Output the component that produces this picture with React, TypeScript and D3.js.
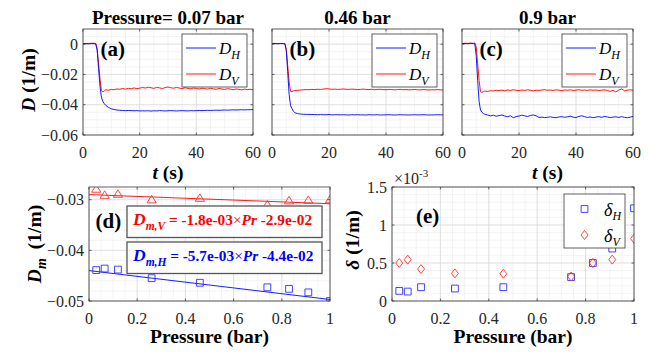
import React from "react";
import * as d3 from "d3";

// ---------- data ----------
// time axis (s)
const TIME = [0, 1, 2, 3, 4, 4.5, 5, 5.5, 6, 6.5, 7, 7.5, 8,
  9, 10, 11, 12, 13, 14, 15, 16, 17, 18, 19, 20, 21, 22, 23, 24, 25, 26, 27, 28, 29, 30,
  31, 32, 33, 34, 35, 36, 37, 38, 39, 40, 41, 42, 43, 44, 45, 46, 47, 48, 49, 50,
  51, 52, 53, 54, 55, 56, 57, 58, 59, 60];

// D series, in units of 1e-3 1/m
const A_DV = [0.3, 0.5, 0.4, 0.6, 0.5, 0.4, -3, -13, -23, -30.5, -31.6, -30.8, -30.2,
  -30.4, -29.9, -30.1, -29.6, -29.8, -29.3, -29.7, -29.2, -29.5, -28.9,
  -29.4, -29.1, -28.6, -29.0, -28.4, -28.8, -29.2, -28.5, -28.9, -29.3,
  -28.7, -28.3, -28.8, -29.1, -28.6, -29.0, -29.4, -28.8, -29.2, -29.5,
  -29.0, -29.3, -29.6, -29.1, -29.4, -29.7, -29.2, -29.5, -29.8, -29.3,
  -29.6, -29.9, -29.4, -29.7, -30.1, -29.6, -29.9, -30.2, -29.7, -30.0,
  -29.8, -30.1];
const A_DH = [0.2, 0.3, 0.2, 0.4, 0.3, 0.2, -4, -16, -28, -35, -37.8, -39.3, -40.4,
  -41.8, -42.7, -43.2, -43.5, -43.7, -43.8, -43.9, -43.8, -43.9, -44.0,
  -43.9, -44.1, -44.0, -44.1, -44.0, -44.2, -44.0, -44.1, -43.9, -44.0,
  -44.1, -44.0, -43.9, -44.0, -44.1, -44.0, -43.9, -44.0, -44.1, -43.9,
  -44.0, -43.9, -43.8, -43.9, -43.8, -43.7, -43.8, -43.7, -43.6, -43.7,
  -43.6, -43.5, -43.6, -43.5, -43.4, -43.5, -43.4, -43.3, -43.4, -43.3,
  -43.3, -43.2];
const B_DV = [0.4, 0.5, 0.3, 0.5, 0.4, 0.3, -3, -14, -25, -31.2, -31.4, -30.9, -30.6,
  -30.5, -30.3, -30.2, -30.0, -30.1, -29.9, -30.0, -29.8, -29.9, -29.7,
  -29.4, -29.6, -29.8, -29.7, -29.9, -29.8, -29.6, -29.8, -29.9, -29.7,
  -29.8, -30.0, -29.9, -29.7, -29.9, -30.0, -29.8, -30.1, -29.9, -29.8,
  -30.0, -30.1, -29.9, -30.0, -30.2, -30.0, -29.9, -30.1, -30.0, -30.2,
  -30.1, -29.9, -30.1, -30.2, -30.0, -30.1, -30.3, -30.1, -30.2, -30.0,
  -30.2, -30.3];
const B_DH = [0.3, 0.4, 0.3, 0.4, 0.3, 0.3, -4, -18, -33, -40.5, -42.5, -44.3, -45.3,
  -45.9, -46.2, -46.3, -46.4, -46.4, -46.5, -46.5, -46.6, -46.5, -46.6,
  -46.6, -46.5, -46.7, -46.6, -46.6, -46.7, -46.6, -46.7, -46.8, -46.6,
  -46.7, -46.6, -46.7, -46.7, -46.8, -46.6, -46.7, -46.7, -46.6, -46.8,
  -46.7, -46.7, -46.6, -46.7, -46.8, -46.7, -46.6, -46.7, -46.7, -46.8,
  -46.7, -46.6, -46.7, -46.7, -46.6, -46.7, -46.8, -46.7, -46.7, -46.6,
  -46.7, -46.7];
const C_DV = [0.4, 0.6, 0.5, 0.7, 0.5, 0.8, -2, -13, -24, -31.5, -31.9, -31.3, -31.0,
  -31.2, -30.8, -30.9, -30.5, -30.7, -30.4, -30.8, -30.3, -30.6, -30.1,
  -30.5, -30.7, -30.3, -30.6, -30.2, -30.5, -30.8, -30.4, -30.6, -30.3,
  -30.1, -30.5, -30.3, -30.6, -30.2, -30.4, -30.7, -30.3, -30.5, -30.2,
  -30.6, -30.4, -30.1, -30.5, -30.3, -30.6, -30.2, -30.5, -30.3, -30.7,
  -30.4, -30.2, -30.6, -31.2, -30.5, -31.6, -30.3, -29.6, -30.8, -30.4,
  -30.2, -30.5];
const C_DH = [0.3, 0.4, 0.3, 0.5, 0.4, 0.3, -8, -24, -38, -43.5, -45, -45.8, -46.3,
  -46.8, -47.4, -46.9, -47.6, -47.2, -46.8, -47.5, -47.9, -47.3, -48.6,
  -47.8, -47.5, -46.9, -47.4, -47.8, -47.1, -46.8, -47.3, -48.4, -48.2,
  -48.5, -48.3, -48.0, -48.4, -48.6, -48.1, -47.9, -48.3, -48.0, -47.6,
  -48.2, -48.5, -47.7, -47.3, -47.9, -48.4, -48.1, -48.6, -48.2, -47.9,
  -48.3, -47.8, -48.1, -48.5, -48.2, -48.0, -48.4, -47.9, -48.3, -48.6,
  -48.2, -47.7];

const PANEL_TITLES = ["Pressure= 0.07 bar", "0.46 bar", "0.9 bar"];
const PANEL_TAGS = ["(a)", "(b)", "(c)"];

// pressure summary
const PRESSURE = [0.03, 0.065, 0.12, 0.26, 0.46, 0.74, 0.83, 0.91, 1.0];
const DM_V = [-0.0279, -0.0291, -0.0289, -0.0300, -0.0297, -0.0310, -0.0302, -0.0301, -0.0300];
const DM_H = [-0.0439, -0.0436, -0.0438, -0.0455, -0.0464, -0.0473, -0.0476, -0.0483, -0.0500];
const FIT_SLOPE = [-1.8e-3, -5.7e-3]; // [V, H]
const FIT_INTERCEPT = [-2.9e-2, -4.4e-2];
// delta, in units of 1e-3 1/m
const DELTA_H = [0.133, 0.124, 0.182, 0.164, 0.182, 0.315, 0.50, 0.69, 1.22];
const DELTA_V = [0.50, 0.544, 0.42, 0.363, 0.359, 0.323, 0.50, 0.544, 0.82];

const T_XTICKS = [0, 20, 40, 60];
const T_YTICKS = [-0.06, -0.04, -0.02, 0];
const P_XTICKS = [0, 0.2, 0.4, 0.6, 0.8, 1];
const D_YTICKS = [-0.05, -0.04, -0.03];
const E_YTICKS = [0, 0.5, 1, 1.5];

// ---------- styling ----------
const FONT = "Liberation Serif";
const BLUE = "#0000ff";
const RED = "#ff0000";
const fmt = (v: number) => String(+v.toFixed(6)).replace("-", "\u2212");
const expFmt = (v: number) => {
  const [m, e] = v.toExponential(1).split("e");
  const sign = e[0] === "-" ? "-" : "+";
  return `${m}e${sign}${e.replace(/^[+-]/, "").padStart(2, "0")}`;
};

type FrameProps = {
  id: string;
  xs: d3.ScaleLinear<number, number>;
  ys: d3.ScaleLinear<number, number>;
  xTicks: number[];
  yTicks: number[];
  xMinor: number[];
  yMinor: number[];
  yLabels?: boolean;
  yFmt?: (v: number) => string;
  children?: React.ReactNode;
  overlay?: React.ReactNode;
};

function Frame({ id, xs, ys, xTicks, yTicks, xMinor, yMinor, yLabels = true, yFmt = fmt, children, overlay }: FrameProps) {
  const [x0, x1] = xs.range();
  const [yb, yt] = ys.range();
  const tl = 2.5;
  return (
    <g>
      <defs>
        <clipPath id={id}>
          <rect x={x0} y={yt} width={x1 - x0} height={yb - yt} />
        </clipPath>
      </defs>
      <rect x={x0} y={yt} width={x1 - x0} height={yb - yt} fill="#fff" />
      {xMinor.map((v, i) => (
        <line key={"xm" + i} x1={xs(v)} x2={xs(v)} y1={yt} y2={yb} stroke="#ebebeb" strokeWidth={0.6} />
      ))}
      {yMinor.map((v, i) => (
        <line key={"ym" + i} x1={x0} x2={x1} y1={ys(v)} y2={ys(v)} stroke="#ebebeb" strokeWidth={0.6} />
      ))}
      {xTicks.map((v, i) => (
        <line key={"xg" + i} x1={xs(v)} x2={xs(v)} y1={yt} y2={yb} stroke="#dadada" strokeWidth={0.7} />
      ))}
      {yTicks.map((v, i) => (
        <line key={"yg" + i} x1={x0} x2={x1} y1={ys(v)} y2={ys(v)} stroke="#dadada" strokeWidth={0.7} />
      ))}
      <g clipPath={`url(#${id})`}>{children}</g>
      {xTicks.map((v, i) => (
        <g key={"xt" + i}>
          <line x1={xs(v)} x2={xs(v)} y1={yb} y2={yb - tl} stroke="#262626" strokeWidth={0.7} />
          <line x1={xs(v)} x2={xs(v)} y1={yt} y2={yt + tl} stroke="#262626" strokeWidth={0.7} />
          <text x={xs(v)} y={yb + 23} textAnchor="middle" fontSize={16} fill="#262626" fontFamily={FONT}>
            {fmt(v)}
          </text>
        </g>
      ))}
      {yTicks.map((v, i) => (
        <g key={"yt" + i}>
          <line x1={x0} x2={x0 + tl} y1={ys(v)} y2={ys(v)} stroke="#262626" strokeWidth={0.7} />
          <line x1={x1} x2={x1 - tl} y1={ys(v)} y2={ys(v)} stroke="#262626" strokeWidth={0.7} />
          {yLabels && (
            <text x={x0 - 5} y={ys(v) + 5.5} textAnchor="end" fontSize={16} fill="#262626" fontFamily={FONT}>
              {yFmt(v)}
            </text>
          )}
        </g>
      ))}
      <rect x={x0} y={yt} width={x1 - x0} height={yb - yt} fill="none" stroke="#3a3a3a" strokeWidth={0.8} />
      {overlay}
    </g>
  );
}

const TOP_X_RANGES: [number, number][] = [[83, 253], [272, 443], [462, 633]];
const TOP_SERIES = [[A_DH, A_DV], [B_DH, B_DV], [C_DH, C_DV]];

function TimePanel({ idx }: { idx: number }) {
  const xs = d3.scaleLinear().domain([0, 60]).range(TOP_X_RANGES[idx]);
  const ys = d3.scaleLinear().domain([-0.06, 0.01]).range([135, 29]);
  const line = d3
    .line<number>()
    .x((_, i) => xs(TIME[i]))
    .y((d) => ys(d / 1000));
  const [h, v] = TOP_SERIES[idx];
  const x1 = TOP_X_RANGES[idx][1];
  const lx = x1 - 71;
  const ly = 34;
  const legend = (
    <g>
      <rect x={lx} y={ly} width={65} height={53} fill="#fff" stroke="#3a3a3a" strokeWidth={0.8} />
      <line x1={lx + 4} x2={lx + 34} y1={ly + 14} y2={ly + 14} stroke={BLUE} strokeWidth={0.9} />
      <line x1={lx + 4} x2={lx + 34} y1={ly + 40} y2={ly + 40} stroke={RED} strokeWidth={0.9} />
      <text x={lx + 37} y={ly + 19.5} fontFamily={FONT} fontSize={17} fontStyle="italic" fill="#000">
        D<tspan fontSize={12} dy={5}>H</tspan>
      </text>
      <text x={lx + 37} y={ly + 45.5} fontFamily={FONT} fontSize={17} fontStyle="italic" fill="#000">
        D<tspan fontSize={12} dy={5}>V</tspan>
      </text>
    </g>
  );
  const cx = (TOP_X_RANGES[idx][0] + x1) / 2;
  return (
    <g>
      <Frame
        id={"clipT" + idx}
        xs={xs}
        ys={ys}
        xTicks={T_XTICKS}
        yTicks={T_YTICKS}
        xMinor={d3.range(0, 61, 5)}
        yMinor={d3.range(-60, 11, 5).map((d) => d / 1000)}
        yLabels={idx === 0}
        overlay={
          <g>
            {legend}
            <text x={TOP_X_RANGES[idx][0] + 17.5} y={56} fontFamily={FONT} fontSize={21} fontWeight="bold">
              {PANEL_TAGS[idx]}
            </text>
          </g>
        }
      >
        <path d={line(v) || ""} fill="none" stroke={RED} strokeWidth={0.9} />
        <path d={line(h) || ""} fill="none" stroke={BLUE} strokeWidth={0.9} />
      </Frame>
      <text x={cx} y={24} textAnchor="middle" fontFamily={FONT} fontSize={19} fontWeight="bold">
        {PANEL_TITLES[idx]}
      </text>
      {idx !== 1 && (
        <text x={cx} y={179} textAnchor="middle" fontFamily={FONT} fontSize={19.5} fontWeight="bold">
          <tspan fontStyle="italic">t</tspan> (s)
        </text>
      )}
    </g>
  );
}

const triPath = "M0,-4.3 L4.6,3.2 L-4.6,3.2 Z";
const sqPath = "M-3.4,-3.4 H3.4 V3.4 H-3.4 Z";
const diaPath = "M0,-4.5 L3.5,0 L0,4.5 L-3.5,0 Z";

function PanelD() {
  const xs = d3.scaleLinear().domain([0, 1]).range([89, 330]);
  const ys = d3.scaleLinear().domain([-0.05, -0.0275]).range([301, 187]);
  const fitLine = (k: number) =>
    d3.line<number>().x((p) => xs(p)).y((p) => ys(FIT_SLOPE[k] * p + FIT_INTERCEPT[k]))([0, 1]) || "";
  const eq = (k: number, sub: string, color: string, by: number) => (
    <g>
      <rect x={127} y={by} width={195} height={31.5} fill="#fff" stroke="#555" strokeWidth={1.3} />
      <text x={133} y={by + 19} fill={color} fontFamily={FONT} fontWeight="bold" fontSize={15.3}>
        <tspan fontStyle="italic" fontSize={17.5}>D</tspan>
        <tspan fontStyle="italic" fontSize={11.5} dy={5}>{sub}</tspan>
        <tspan dy={-5}>{" = " + expFmt(FIT_SLOPE[k])}</tspan>
        <tspan fontWeight="normal">{"\u00d7"}</tspan>
        <tspan fontStyle="italic">Pr</tspan>
        <tspan>{" " + expFmt(FIT_INTERCEPT[k])}</tspan>
      </text>
    </g>
  );
  return (
    <g>
      <Frame
        id="clipD"
        xs={xs}
        ys={ys}
        xTicks={P_XTICKS}
        yTicks={D_YTICKS}
        xMinor={d3.range(0, 21, 1).map((d) => d * 0.05)}
        yMinor={d3.range(-50, -27, 2).map((d) => d / 1000)}
        overlay={
          <g>
            {eq(0, "m,V", RED, 206)}
            {eq(1, "m,H", BLUE, 242)}
            <text x={95.5} y={228} fontFamily={FONT} fontSize={21} fontWeight="bold">(d)</text>
          </g>
        }
      >
        <path d={fitLine(0)} stroke={RED} strokeWidth={0.9} fill="none" />
        <path d={fitLine(1)} stroke={BLUE} strokeWidth={0.9} fill="none" />
        {PRESSURE.map((p, i) => (
          <path key={"v" + i} d={triPath} transform={`translate(${xs(p)},${ys(DM_V[i])})`} fill="none" stroke="#ff3030" strokeWidth={0.9} />
        ))}
        {PRESSURE.map((p, i) => (
          <path key={"h" + i} d={sqPath} transform={`translate(${xs(p)},${ys(DM_H[i])})`} fill="none" stroke="#3030ff" strokeWidth={0.9} />
        ))}
      </Frame>
      <text x={209.5} y={343} textAnchor="middle" fontFamily={FONT} fontSize={19.5} fontWeight="bold">
        Pressure (bar)
      </text>
      <text transform="translate(41,244) rotate(-90)" textAnchor="middle" fontFamily={FONT} fontSize={19.5} fontWeight="bold">
        <tspan fontStyle="italic">D</tspan>
        <tspan fontStyle="italic" fontSize={14} dy={5}>m</tspan>
        <tspan dy={-5} dx={9}>(1/m)</tspan>
      </text>
    </g>
  );
}

function PanelE() {
  const xs = d3.scaleLinear().domain([0, 1]).range([392, 634]);
  const ys = d3.scaleLinear().domain([0, 1.5]).range([301, 187]);
  const lx = 564;
  const ly = 194;
  return (
    <g>
      <Frame
        id="clipE"
        xs={xs}
        ys={ys}
        xTicks={P_XTICKS}
        yTicks={E_YTICKS}
        xMinor={d3.range(0, 21, 1).map((d) => d * 0.05)}
        yMinor={d3.range(0, 16, 1).map((d) => d / 10)}
        overlay={
          <g>
            <rect x={lx} y={ly} width={61} height={54} fill="#fff" stroke="#3a3a3a" strokeWidth={0.8} />
            <path d={sqPath} transform={`translate(${lx + 20.5},${ly + 15})`} fill="none" stroke="#3030ff" strokeWidth={0.9} />
            <path d={diaPath} transform={`translate(${lx + 20.5},${ly + 41})`} fill="none" stroke="#ff3030" strokeWidth={0.9} />
            <text x={lx + 40} y={ly + 22} fontFamily={FONT} fontSize={18} fontStyle="italic">
              δ<tspan fontSize={12} dy={4}>H</tspan>
            </text>
            <text x={lx + 40} y={ly + 47.5} fontFamily={FONT} fontSize={18} fontStyle="italic">
              δ<tspan fontSize={12} dy={4}>V</tspan>
            </text>
            <text x={416} y={223} fontFamily={FONT} fontSize={21} fontWeight="bold">(e)</text>
          </g>
        }
      >
        {PRESSURE.map((p, i) => (
          <path key={"h" + i} d={sqPath} transform={`translate(${xs(p)},${ys(DELTA_H[i])})`} fill="none" stroke="#3030ff" strokeWidth={0.9} />
        ))}
        {PRESSURE.map((p, i) => (
          <path key={"v" + i} d={diaPath} transform={`translate(${xs(p)},${ys(DELTA_V[i])})`} fill="none" stroke="#ff3030" strokeWidth={0.9} />
        ))}
      </Frame>
      <text x={394} y={184} fontFamily={FONT} fontSize={16} fill="#262626">
        {"\u00d710"}
        <tspan fontSize={11} dy={-7}>-3</tspan>
      </text>
      <text x={513} y={343} textAnchor="middle" fontFamily={FONT} fontSize={19.5} fontWeight="bold">
        Pressure (bar)
      </text>
      <text transform="translate(359,240) rotate(-90)" textAnchor="middle" fontFamily={FONT} fontSize={19.5} fontWeight="bold">
        <tspan fontStyle="italic">δ</tspan> (1/m)
      </text>
    </g>
  );
}

export default function App() {
  return (
    <svg
      width={657}
      height={356}
      viewBox="0 0 657 356"
      style={{ position: "absolute", left: 0, top: 0, background: "#fff" }}
    >
      <rect x={0} y={0} width={657} height={356} fill="#fff" />
      {[0, 1, 2].map((i) => (
        <TimePanel key={i} idx={i} />
      ))}
      <text transform="translate(35,80) rotate(-90)" textAnchor="middle" fontFamily={FONT} fontSize={19.5} fontWeight="bold">
        <tspan fontStyle="italic">D</tspan> (1/m)
      </text>
      <PanelD />
      <PanelE />
    </svg>
  );
}
